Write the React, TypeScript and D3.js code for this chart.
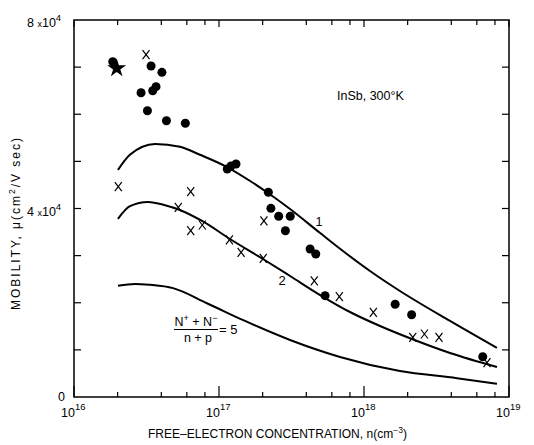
import React from "react";
import * as d3 from "d3";

// ---- data (n in cm^-3, mobility in cm^2/V sec) ----
const curve1N = [2.01e16, 2.43e16, 3.62e16, 5.38e16, 7.39e16, 1.135e17, 1.64e17, 2.18e17, 3.09e17, 4.98e17, 7.16e17, 1.1e18, 1.77e18, 3.92e18, 8.26e18];
const curve1Mu = [48200, 51400, 53700, 53100, 51400, 48800, 45840, 43290, 39890, 34800, 30980, 26740, 22490, 16130, 10400];

const curve2N = [2.01e16, 2.43e16, 3.24e16, 4.25e16, 5.38e16, 7.64e16, 1.19e17, 2.01e17, 3.09e17, 4.98e17, 8.0e17, 1.29e18, 2.14e18, 3.92e18, 8.26e18];
const curve2Mu = [37800, 40500, 41400, 40700, 39680, 37350, 33530, 29280, 25680, 21640, 18040, 15070, 12310, 9340, 6370];

const curve3N = [2.01e16, 2.64e16, 3.34e16, 4.82e16, 8.26e16, 1.47e17, 3.09e17, 6.83e17, 1.77e18, 4.38e18, 8.26e18];
const curve3Mu = [23600, 24000, 23800, 23100, 19900, 16300, 12100, 8500, 5500, 4000, 2800];

const circleN = [1.85e16, 3.4e16, 4.04e16, 2.9e16, 3.49e16, 3.68e16, 3.21e16, 4.34e16, 5.86e16, 1.14e17, 1.21e17, 1.31e17, 2.19e17, 2.28e17, 2.58e17, 3.1e17, 2.87e17, 4.25e17, 4.65e17, 5.39e17, 1.64e18, 2.13e18, 6.59e18];
const circleMu = [71150, 70240, 68900, 64560, 64990, 65850, 60750, 58630, 58080, 48380, 49020, 49440, 43440, 40040, 38350, 38350, 35290, 31410, 30340, 21500, 19670, 17460, 8550];

const crossN = [3.14e16, 2.02e16, 6.38e16, 5.24e16, 6.38e16, 7.67e16, 1.18e17, 1.42e17, 2.02e17, 2.04e17, 4.54e17, 6.76e17, 1.16e18, 2.17e18, 2.61e18, 3.29e18, 7.05e18];
const crossMu = [72640, 44630, 43570, 40250, 35290, 36500, 33320, 30710, 29430, 37350, 24620, 21280, 17970, 12670, 13370, 12670, 7280];

const starN = [1.97e16];
const starMu = [69750];

const xDecades = [16, 17, 18, 19];
const yTickValues = [0, 10000, 20000, 30000, 40000, 50000, 60000, 70000, 80000];

const FONT = "'Liberation Sans', Arial, Helvetica, sans-serif";

export default function App() {
  const x = d3.scaleLog().domain([1e16, 1e19]).range([74, 509]);
  const y = d3.scaleLinear().domain([0, 80000]).range([397, 20]);

  const line = d3
    .line<[number, number]>()
    .x((d) => x(d[0]))
    .y((d) => y(d[1]))
    .curve(d3.curveMonotoneX);

  const curves = [
    d3.zip(curve1N, curve1Mu) as [number, number][],
    d3.zip(curve2N, curve2Mu) as [number, number][],
    d3.zip(curve3N, curve3Mu) as [number, number][],
  ];

  const minorTicks: number[] = [];
  for (let k = 16; k < 19; k++) {
    for (const m of [2, 4, 6, 8]) minorTicks.push(m * Math.pow(10, k));
  }
  const majorTicks = xDecades.map((k) => Math.pow(10, k));

  const [x0, x1] = x.range();
  const [yb, yt] = y.range();

  const star = d3.symbol(d3.symbolStar, 110)();

  return (
    <svg
      width={534}
      height={445}
      style={{ position: "absolute", left: 0, top: 0, background: "#fff" }}
      fontFamily={FONT}
    >
      <rect x={0} y={0} width={534} height={445} fill="#fff" />
      {/* frame */}
      <rect x={x0} y={yt} width={x1 - x0} height={yb - yt} fill="none" stroke="#000" strokeWidth={1.5} />

      {/* x ticks bottom & top */}
      {majorTicks.map((t, i) => (
        <g key={"mj" + i}>
          <line x1={x(t)} x2={x(t)} y1={yb} y2={yb - 11} stroke="#000" strokeWidth={1.2} />
          <line x1={x(t)} x2={x(t)} y1={yt} y2={yt + 7} stroke="#000" strokeWidth={1.2} />
        </g>
      ))}
      {minorTicks.map((t, i) => (
        <g key={"mn" + i}>
          <line x1={x(t)} x2={x(t)} y1={yb} y2={yb - 5} stroke="#000" strokeWidth={1.2} />
          <line x1={x(t)} x2={x(t)} y1={yt} y2={yt + 5} stroke="#000" strokeWidth={1.2} />
        </g>
      ))}
      {/* y ticks left & right */}
      {yTickValues.slice(1, -1).map((t, i) => (
        <g key={"yt" + i}>
          <line x1={x0} x2={x0 + 7} y1={y(t)} y2={y(t)} stroke="#000" strokeWidth={1.2} />
          <line x1={x1} x2={x1 - 7} y1={y(t)} y2={y(t)} stroke="#000" strokeWidth={1.2} />
        </g>
      ))}

      {/* y tick labels */}
      <text x={27} y={y(80000) + 7} fontSize={12.5} fill="#000">
        8 <tspan fontSize={9}>x</tspan>10<tspan dy={-6} fontSize={9.5}>4</tspan>
      </text>
      <text x={27} y={y(40000) + 7} fontSize={12.5} fill="#000">
        4 <tspan fontSize={9}>x</tspan>10<tspan dy={-6} fontSize={9.5}>4</tspan>
      </text>
      <text x={58} y={y(0) + 4} fontSize={12.5} fill="#000">
        0
      </text>

      {/* x tick labels */}
      {xDecades.map((k) => (
        <text key={"xl" + k} x={x(Math.pow(10, k)) - 13} y={417} fontSize={12.5} fill="#000">
          10<tspan dy={-7} fontSize={9.5}>{k}</tspan>
        </text>
      ))}

      {/* axis titles */}
      <text x={148} y={438} fontSize={12} fill="#000" textLength={259} lengthAdjust="spacing">
        FREE–ELECTRON CONCENTRATION, n(cm<tspan dy={-5} fontSize={8.5}>−3</tspan>
        <tspan dy={5}>)</tspan>
      </text>
      <text
        transform="translate(20,224) rotate(-90)"
        textAnchor="middle"
        fontSize={12}
        fill="#000"
        textLength={172}
        lengthAdjust="spacing"
      >
        MOBILITY, μ(cm<tspan dy={-5} fontSize={8.5}>2</tspan>
        <tspan dy={5}>/V sec)</tspan>
      </text>

      {/* curves */}
      {curves.map((c, i) => (
        <path key={"c" + i} d={line(c) || ""} fill="none" stroke="#000" strokeWidth={2} />
      ))}

      {/* circles */}
      {circleN.map((n, i) => (
        <circle key={"ci" + i} cx={x(n)} cy={y(circleMu[i])} r={4.5} fill="#000" />
      ))}
      {/* crosses */}
      {crossN.map((n, i) => {
        const cx = x(n);
        const cy = y(crossMu[i]);
        return (
          <g key={"cr" + i} stroke="#000" strokeWidth={1.2}>
            <line x1={cx - 3.5} y1={cy - 4.5} x2={cx + 3.5} y2={cy + 4.5} />
            <line x1={cx + 3.5} y1={cy - 4.5} x2={cx - 3.5} y2={cy + 4.5} />
          </g>
        );
      })}
      {/* star */}
      {starN.map((n, i) => (
        <path key={"st" + i} d={star || ""} transform={`translate(${x(n)},${y(starMu[i])})`} fill="#000" />
      ))}

      {/* annotations */}
      <text x={337} y={100} fontSize={12.5} fill="#000">
        InSb, 300°K
      </text>
      <text x={319} y={226} fontSize={12.5} textAnchor="middle" fill="#000">
        1
      </text>
      <text x={282} y={285} fontSize={13} textAnchor="middle" fill="#000">
        2
      </text>
      <text x={196} y={326} fontSize={12.5} textAnchor="middle" fill="#000">
        N<tspan dy={-5} fontSize={9}>+</tspan>
        <tspan dy={5}> + N</tspan>
        <tspan dy={-5} fontSize={9}>−</tspan>
      </text>
      <line x1={174} x2={218} y1={329.5} y2={329.5} stroke="#000" strokeWidth={1.2} />
      <text x={198} y={342} fontSize={12.5} textAnchor="middle" fill="#000">
        n + p
      </text>
      <text x={219} y={334} fontSize={13} fill="#000">
        = 5
      </text>
    </svg>
  );
}
